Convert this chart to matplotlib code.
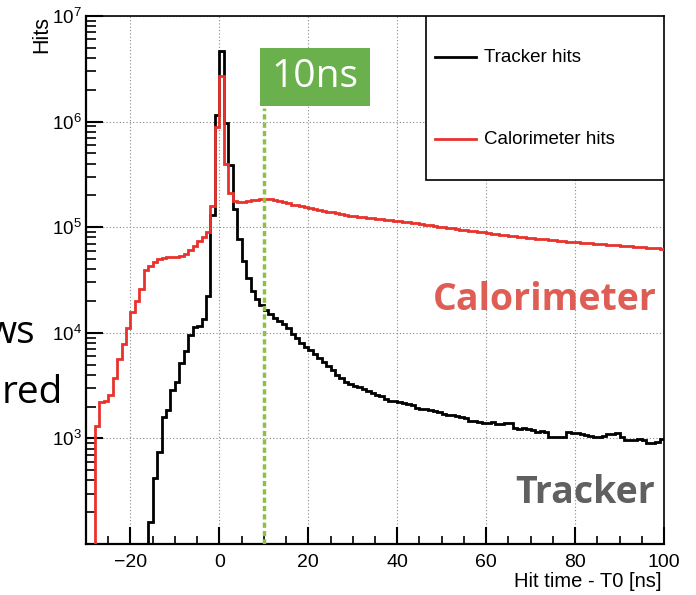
import numpy as np
import matplotlib
matplotlib.use('Agg')
import matplotlib.pyplot as plt
from matplotlib.ticker import FixedLocator, LogLocator, MultipleLocator, LogFormatterMathtext, NullFormatter
from matplotlib.patches import Rectangle
from matplotlib.lines import Line2D

# 1 ns bins from -30 to 100 ns
bin_edges = np.arange(-30, 101)

# tracker hits per bin (t = -30 ... 99)
tracker_hits = [0] * 14 + [
    160, 420, 740, 1600, 1850, 2850, 3400, 5200, 6700, 9600, 11300, 11500, 13500, 22500, 130000, 1150000,
    4700000, 970000, 390000, 150000, 77000, 48000, 33000, 25000, 21000, 18500,
    16500, 15000, 13800, 12800, 12000, 11000, 9800, 8900, 8000, 7400,
    6900, 6300, 5800, 5300, 4800, 4400, 4000, 3700, 3450, 3300,
    3150, 3050, 2950, 2800, 2700, 2600, 2500, 2350, 2250, 2250,
    2200, 2150, 2100, 2050, 1950, 1900, 1880, 1850, 1820, 1780,
    1720, 1660, 1660, 1640, 1590, 1560, 1470, 1460, 1430, 1410,
    1400, 1440, 1370, 1370, 1410, 1400, 1245, 1240, 1250, 1230,
    1200, 1140, 1180, 1140, 1040, 1030, 1040, 1035, 1140, 1130,
    1120, 1090, 1075, 1060, 1030, 1040, 1045, 1100, 1110, 1120,
    1030, 965, 960, 970, 990, 960, 910, 905, 915, 980,
]

# calorimeter hits per bin (t = -30 ... 99)
calo_hits = [0, 0] + [
    1300, 2200, 2260, 2600, 3700, 5700, 7900, 11200, 15600, 20000,
    25800, 39000, 42600, 46500, 50000, 51500, 52000, 52000, 52000, 53000,
    56000, 61000, 66000, 74000, 81000, 91000, 158000, 890000,
    2700000, 400000, 213000, 176000, 173000, 174000, 176000, 179000, 182000, 185000,
    186000, 184000, 180000, 176000, 172000, 168000, 164000, 161000, 158000, 155000,
    152000, 149000, 146000, 143000, 140000, 138000, 135000, 133000, 131000, 129000,
    128000, 126000, 125000, 123000, 122000, 120000, 119000, 118000, 116000, 115000,
    114000, 112500, 111000, 110000, 108500, 107000, 106000, 104500, 103000, 101500,
    100000, 99000, 97500, 96000, 95000, 94000, 93000, 92000, 91000, 89500,
    88000, 87000, 86000, 85000, 84000, 83000, 82500, 81500, 80500, 79500,
    79000, 78000, 77500, 76500, 76000, 75000, 74500, 74000, 73000, 72500,
    72000, 71500, 71000, 70500, 70000, 69500, 69000, 68500, 68000, 67500,
    67000, 66500, 66000, 65500, 65000, 64500, 64000, 63500, 63000, 62500,
]

window_ns = 10
y_ticks = [1e3, 1e4, 1e5, 1e6, 1e7]

plt.rcParams['font.family'] = ['Liberation Sans', 'DejaVu Sans']
plt.rcParams['mathtext.fontset'] = 'custom'
plt.rcParams['mathtext.rm'] = 'Liberation Sans'
plt.rcParams['mathtext.it'] = 'Liberation Sans:italic'
plt.rcParams['mathtext.bf'] = 'Liberation Sans:bold'

fig = plt.figure(figsize=(6.96, 5.95), dpi=100)
ax = fig.add_axes([86 / 696, 51 / 595, 578 / 696, 528 / 595])

ax.stairs(tracker_hits, bin_edges, baseline=None, color='black', lw=2, zorder=3)
ax.stairs(calo_hits, bin_edges, baseline=None, color='#e8322b', lw=2, zorder=4)

ax.set_yscale('log')
ax.set_xlim(-30, 100)
ax.set_ylim(100, 1e7)

ax.xaxis.set_major_locator(MultipleLocator(20))
ax.xaxis.set_minor_locator(MultipleLocator(5))
ax.yaxis.set_major_locator(FixedLocator(y_ticks))
ax.yaxis.set_major_formatter(LogFormatterMathtext())
ax.yaxis.set_minor_locator(LogLocator(base=10, subs=np.arange(2, 10)))
ax.yaxis.set_minor_formatter(NullFormatter())

ax.tick_params(axis='both', which='both', direction='in', top=False, right=False)
ax.tick_params(axis='y', which='major', length=12, width=1.5, labelsize=13.5, pad=3)
ax.tick_params(axis='y', which='minor', length=7, width=1.2)
ax.tick_params(axis='x', which='major', length=12, width=1.5, labelsize=14, pad=7)
ax.tick_params(axis='x', which='minor', length=6, width=1.2)

ax.grid(True, which='major', ls=(0, (1, 2)), color='#888888', lw=0.8)
ax.set_axisbelow(True)
for s in ['left', 'bottom']:
    ax.spines[s].set_linewidth(1.6)
for s in ['top', 'right']:
    ax.spines[s].set_linewidth(1.2)

# 10 ns marker
ax.axvline(window_ns, ymin=0, ymax=0.826, color='#8dc043', lw=2.5, ls=(0, (1.5, 0.9)), zorder=5)
ax.add_patch(Rectangle((0.301, 0.830), 0.19, 0.109, transform=ax.transAxes,
                       facecolor='#6ab04c', edgecolor='none', zorder=6))
ax.text(0.396, 0.884, '10ns', transform=ax.transAxes, color='white', fontsize=28,
        family='Open Sans', ha='center', va='center', zorder=7)

# legend box
ax.add_patch(Rectangle((0.588, 0.689), 0.412, 0.311, transform=ax.transAxes,
                       facecolor='white', edgecolor='black', lw=1.2, zorder=8))
ax.add_line(Line2D([0.604, 0.675], [0.922, 0.922], transform=ax.transAxes, color='black', lw=2, zorder=9))
ax.add_line(Line2D([0.604, 0.675], [0.767, 0.767], transform=ax.transAxes, color='#e8322b', lw=2, zorder=9))
ax.text(0.689, 0.922, 'Tracker hits', transform=ax.transAxes, fontsize=13.5, va='center', zorder=9)
ax.text(0.689, 0.767, 'Calorimeter hits', transform=ax.transAxes, fontsize=13.5, va='center', zorder=9)

ax.text(0.988, 0.443, 'Calorimeter', transform=ax.transAxes, color='#de5e55', fontsize=27,
        family='Open Sans', weight='bold', ha='right', va='baseline', zorder=7)
ax.text(0.984, 0.078, 'Tracker', transform=ax.transAxes, color='#606060', fontsize=27,
        family='Open Sans', weight='bold', ha='right', va='baseline', zorder=7)

fig.text(42 / 696, 1 - 16 / 595, 'Hits', rotation=90, ha='center', va='top', fontsize=15.5)
fig.text(662 / 696, 1 - 587 / 595, 'Hit time - T0 [ns]', ha='right', va='baseline', fontsize=14.5)

# slide text cut off at the left edge
fig.text(35 / 696, 1 - 343 / 595, 'ws', ha='right', va='baseline', fontsize=28, family='Open Sans')
fig.text(63 / 696, 1 - 403 / 595, 'red', ha='right', va='baseline', fontsize=28, family='Open Sans')

fig.savefig('out.png', dpi=100)
